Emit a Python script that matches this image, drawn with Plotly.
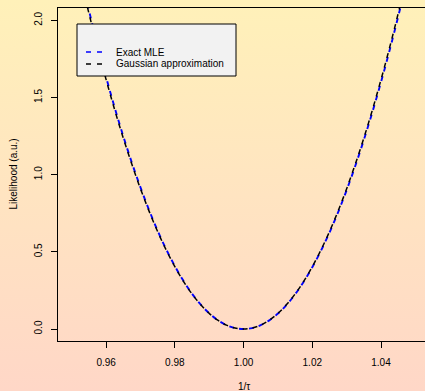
import base64
import plotly.graph_objects as go

# ---- data ----
x_vals = [0.9500, 0.9525, 0.9550, 0.9575, 0.9600, 0.9625, 0.9650, 0.9675, 0.9700,
          0.9725, 0.9750, 0.9775, 0.9800, 0.9825, 0.9850, 0.9875, 0.9900, 0.9925,
          0.9950, 0.9975, 1.0000, 1.0025, 1.0050, 1.0075, 1.0100, 1.0125, 1.0150,
          1.0175, 1.0200, 1.0225, 1.0250, 1.0275, 1.0300, 1.0325, 1.0350, 1.0375,
          1.0400, 1.0425, 1.0450, 1.0475, 1.0500]
exact_mle = [2.550, 2.300, 2.065, 1.842, 1.632, 1.434, 1.249, 1.077, 0.918,
             0.771, 0.637, 0.516, 0.408, 0.312, 0.229, 0.159, 0.102, 0.057,
             0.025, 0.006, 0.000, 0.006, 0.025, 0.056, 0.100, 0.156, 0.225,
             0.306, 0.400, 0.506, 0.625, 0.756, 0.900, 1.056, 1.225, 1.406,
             1.600, 1.806, 2.025, 2.256, 2.500]
gauss_approx = [2.525, 2.279, 2.045, 1.824, 1.616, 1.420, 1.237, 1.067, 0.909,
                0.764, 0.631, 0.511, 0.404, 0.309, 0.227, 0.158, 0.101, 0.057,
                0.025, 0.006, 0.000, 0.006, 0.025, 0.057, 0.101, 0.158, 0.227,
                0.309, 0.404, 0.511, 0.631, 0.764, 0.909, 1.067, 1.237, 1.420,
                1.616, 1.824, 2.045, 2.279, 2.525]
series_names = ["Exact MLE", "Gaussian approximation"]
x_ticks = [0.96, 0.98, 1.00, 1.02, 1.04]
y_ticks = [0.0, 0.5, 1.0, 1.5, 2.0]

W, H = 425, 391
ML, MR, MT, MB = 58, 0, 8, 50
PW, PH = W - ML - MR, H - MT - MB

FONT = "Liberation Sans, Arial, sans-serif"
DASH = "5px,5px"

fig = go.Figure()
fig.add_trace(go.Scatter(x=x_vals, y=exact_mle, mode="lines", name=series_names[0],
                         line=dict(color="#0000ff", width=1.9, dash=DASH, shape="spline"),
                         showlegend=False))
fig.add_trace(go.Scatter(x=x_vals, y=gauss_approx, mode="lines", name=series_names[1],
                         line=dict(color="#000000", width=1.5, dash=DASH, shape="spline"),
                         showlegend=False))

# gradient background as an svg image
svg = ('<svg xmlns="http://www.w3.org/2000/svg" width="425" height="391">'
       '<defs><linearGradient id="g" x1="0" y1="0" x2="0" y2="1">'
       '<stop offset="0" stop-color="#fff1b9"/>'
       '<stop offset="0.5" stop-color="#ffe4c1"/>'
       '<stop offset="1" stop-color="#ffd7c7"/>'
       '</linearGradient></defs>'
       '<rect width="425" height="391" fill="url(#g)"/></svg>')
uri = "data:image/svg+xml;base64," + base64.b64encode(svg.encode()).decode()
fig.add_layout_image(dict(source=uri, xref="paper", yref="paper",
                          x=-ML / PW, y=1 + MT / PH, sizex=W / PW, sizey=H / PH,
                          xanchor="left", yanchor="top", sizing="stretch",
                          layer="below"))

# legend drawn manually
def px_x(p):
    return (p - ML) / PW

def px_y(p):
    return 1 - (p - MT) / PH

shapes = [dict(type="rect", xref="paper", yref="paper",
               x0=px_x(77), x1=px_x(236), y0=px_y(76), y1=px_y(24),
               fillcolor="#f2f2f2", line=dict(color="black", width=1), layer="above")]
annos = []
for i, (nm, col) in enumerate(zip(series_names, ["#0000ff", "#000000"])):
    yy = 52 + 12 * i
    shapes.append(dict(type="line", xref="paper", yref="paper",
                       x0=px_x(86), x1=px_x(102), y0=px_y(yy), y1=px_y(yy),
                       line=dict(color=col, width=1.3, dash="5px,6px"), layer="above"))
    annos.append(dict(text=nm, xref="paper", yref="paper", x=px_x(114), y=px_y(yy),
                      xanchor="left", yanchor="middle", showarrow=False,
                      font=dict(family=FONT, size=10, color="black")))

annos.append(dict(text="Likelihood (a.u.)", xref="paper", yref="paper",
                  x=px_x(13), y=0.5, textangle=-90, showarrow=False,
                  xanchor="center", yanchor="middle",
                  font=dict(family=FONT, size=10, color="black")))
annos.append(dict(text="1/τ", xref="x", yref="paper", x=1.00, y=px_y(386),
                  showarrow=False, xanchor="center", yanchor="middle",
                  font=dict(family=FONT, size=10, color="black")))

fig.update_layout(
    width=W, height=H, margin=dict(l=ML, r=MR, t=MT, b=MB),
    paper_bgcolor="rgba(0,0,0,0)", plot_bgcolor="rgba(0,0,0,0)",
    shapes=shapes, annotations=annos, showlegend=False,
    font=dict(family=FONT, size=10, color="black"),
)
fig.update_xaxes(range=[0.946, 1.0528], tickvals=x_ticks, tickformat=".2f",
                 ticks="outside", ticklen=6, tickcolor="black", tickwidth=1,
                 showline=True, linecolor="black", linewidth=1, mirror=True,
                 showgrid=False, zeroline=False, ticklabelstandoff=6)
fig.update_yaxes(range=[-0.0777, 2.08], tickvals=y_ticks, tickformat=".1f",
                 ticks="outside", ticklen=6, tickcolor="black", tickwidth=1,
                 showline=True, linecolor="black", linewidth=1,
                 showgrid=False, zeroline=False, tickangle=-90, ticklabelstandoff=5)

fig.write_html("out.html")
